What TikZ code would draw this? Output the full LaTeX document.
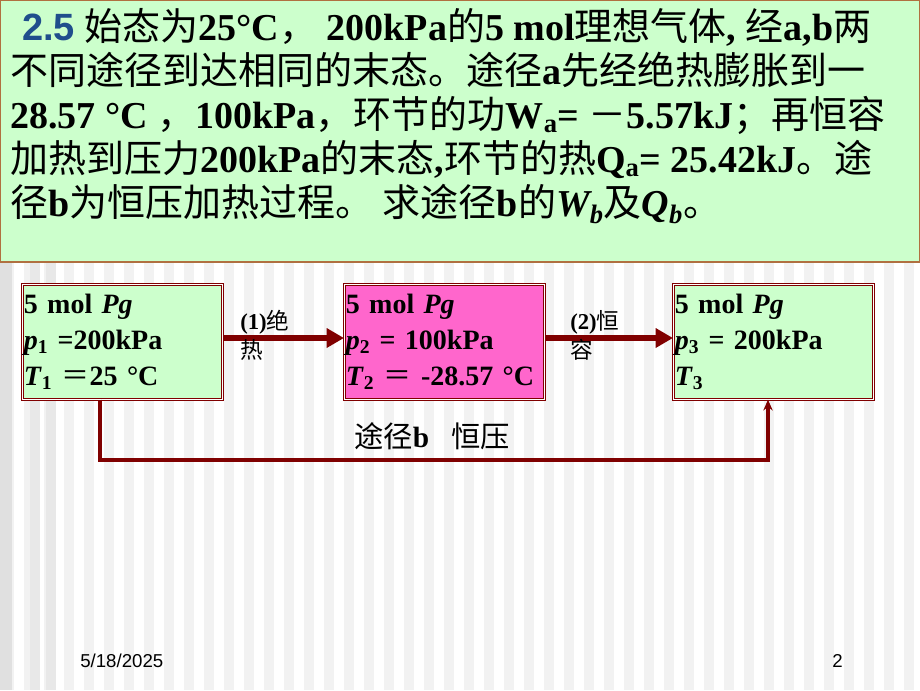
\documentclass[tikz,border=0pt]{standalone}
\usepackage{fontspec}
\setmainfont{Liberation Serif}
\setsansfont{Liberation Sans}
\newfontfamily\cjk{Noto Sans CJK SC}
\newcommand{\zh}[1]{{\cjk\mdseries #1}}
\definecolor{panelgreen}{HTML}{CCFFCC}
\definecolor{panelpink}{HTML}{FF66CC}
\definecolor{darkred}{HTML}{800000}
\definecolor{edgebrown}{HTML}{B07040}
\definecolor{numblue}{HTML}{1F4E8C}
\usetikzlibrary{arrows.meta}
\tikzset{
  txt/.style={anchor=base west, inner sep=0pt, font=\fontsize{28.5}{32}\selectfont\bfseries},
  state/.style={draw=darkred, double=white, double distance=0.6pt, thick, minimum width=150pt, minimum height=86pt, inner sep=1pt, align=left, anchor=north west, text width=148pt, font=\fontsize{21}{27}\selectfont\bfseries},
  stage/.style={-{Triangle[length=13pt,width=14pt]}, draw=darkred, line width=5pt},
  lbl/.style={anchor=north west, inner sep=0pt, align=left, font=\fontsize{17}{22}\selectfont\bfseries}
}
\begin{document}
\begin{tikzpicture}[x=0.75pt,y=-0.75pt]
\useasboundingbox (0,0) rectangle (920,690);
% striped background
\fill[white] (0,0) rectangle (920,690);
\foreach \i in {0,...,45} {\fill[black!5] (\i*20+4,262) rectangle (\i*20+14,690);}
\fill[black!12] (0,262) rectangle (12,690);
\fill[black!9] (30,262) rectangle (40,690);
\fill[black!9] (46,262) rectangle (56,690);
% problem panel
\draw[edgebrown, fill=panelgreen, line width=1.2pt] (0,0) rectangle (920,262);
\node[txt] (l1) at (22,40) {\textcolor{numblue}{\sffamily 2.5} \zh{始态为}25°C\zh{，} 200kPa\zh{的}5 mol\zh{理想气体}, \zh{经}a,b\zh{两}};
\node[txt] (l2) at (10,84) {\zh{不同途径到达相同的末态。途径}a\zh{先经绝热膨胀到一}};
\node[txt] (l3) at (10,128) {28.57 °C \zh{，}100kPa\zh{，环节的功}W\textsubscript{a}= \zh{－}5.57kJ\zh{；再恒容}};
\node[txt] (l4) at (10,172) {\zh{加热到压力}200kPa\zh{的末态},\zh{环节的热}Q\textsubscript{a}= 25.42kJ\zh{。途}};
\node[txt] (l5) at (10,216) {\zh{径}b\zh{为恒压加热过程。} \zh{求途径}b\zh{的}\textit{W\textsubscript{b}}\zh{及}\textit{Q\textsubscript{b}}\zh{。}};
% states
\node[state, fill=panelgreen] (s1) at (22,284) {5 mol \textit{Pg}\\\textit{p}\textsubscript{1} =200kPa\\\textit{T}\textsubscript{1} \zh{＝}25 °C};
\node[state, fill=panelpink] (s2) at (344,284) {5 mol \textit{Pg}\\\textit{p}\textsubscript{2} = 100kPa\\\textit{T}\textsubscript{2} \zh{＝} -28.57 °C};
\node[state, fill=panelgreen] (s3) at (673,284) {5 mol \textit{Pg}\\\textit{p}\textsubscript{3} = 200kPa\\\textit{T}\textsubscript{3}};
\draw[stage] (s1.east |- 0,338) -- (s2.west |- 0,338);
\draw[stage] (s2.east |- 0,338) -- (s3.west |- 0,338);
\node[lbl] (a1) at (240,310) {(1)\zh{绝}\\\zh{热}};
\node[lbl] (a2) at (570,310) {(2)\zh{恒}\\\zh{容}};
% path b
\coordinate (b1) at (100,460);
\coordinate (b2) at (768,460);
\draw[darkred, line width=2.5pt, -{Stealth[length=8pt,width=7pt]}] (s1.south -| b1) -- (b1) -- (b2) -- (s3.south -| b2);
\node[anchor=base west, inner sep=0pt, font=\fontsize{22}{24}\selectfont\bfseries] (pb) at (354,447) {\zh{途径}b\ \ \ \zh{恒压}};
% footer
\node[anchor=base west, inner sep=0pt, font=\sffamily\fontsize{14}{16}\selectfont] (date) at (80,667) {5/18/2025};
\node[anchor=base west, inner sep=0pt, font=\sffamily\fontsize{14}{16}\selectfont] (page) at (832,667) {2};
\end{tikzpicture}
\end{document}
